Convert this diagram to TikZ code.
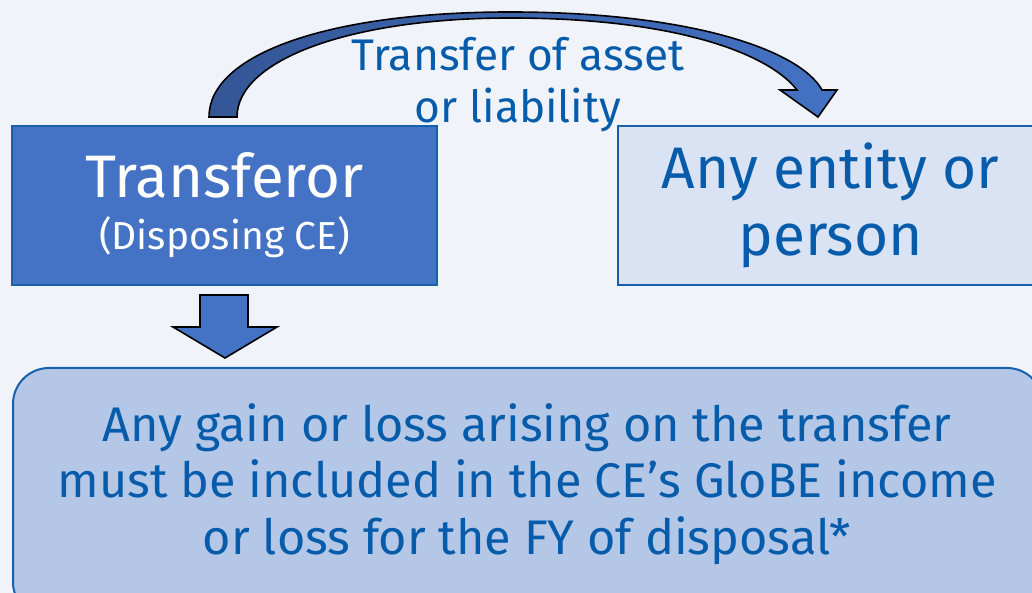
\documentclass[tikz,border=0pt]{standalone}
\usepackage{fontspec}
\setmainfont{Fira Sans}
\usetikzlibrary{calc}
\definecolor{bg}{RGB}{240,244,250}
\definecolor{darkfill}{RGB}{68,114,196}
\definecolor{lightfill}{RGB}{218,227,243}
\definecolor{midfill}{RGB}{180,199,231}
\definecolor{edgeblue}{RGB}{22,96,172}
\definecolor{txtblue}{RGB}{6,92,170}
\definecolor{arrowdark}{RGB}{52,86,150}
\tikzset{
  box/.style={draw=edgeblue, line width=2pt, inner sep=0pt, align=center},
  blockarrow/.style={draw=black, line width=1.6pt, line join=miter},
}
\begin{document}
\begin{tikzpicture}[x=1pt,y=1pt]
\useasboundingbox (0,0) rectangle (1032,593);
\clip (0,0) rectangle (1032,593);
\fill[bg] (0,0) rectangle (1032,593);

% Transferor box
\node[box, fill=darkfill, text=white, minimum width=425pt, minimum height=159pt,
      font=\fontsize{60}{52}\selectfont]
  (t) at (224.5,387.5)
  {\raisebox{-3pt}{Transferor}\\{\fontsize{39}{52}\selectfont \raisebox{-3pt}{(Disposing CE)}}};

% Right box
\node[box, fill=lightfill, text=txtblue, minimum width=425pt, minimum height=159pt,
      anchor=west, font=\fontsize{58.6}{67}\selectfont] (p) at (617,387.5)
  {Any entity or\\person};

% Bottom rounded box
\node[box, fill=midfill, rounded corners=36pt, minimum width=1030pt, minimum height=250pt,
      anchor=north west] (g) at (12,226) {};
\node[text=txtblue, align=center, inner sep=0pt, font=\fontsize{48.6}{56.5}\selectfont]
  (gt) at (527,109)
  {Any gain or loss arising on the transfer\\
   must be included in the CE’s GloBE income\\
   or loss for the FY of disposal*};

% Curved transfer arrow
\shade[left color=arrowdark, right color=darkfill, draw=black, line width=1.6pt, line join=miter]
  (209,476) .. controls (209,539) and (329,581) .. (510,581)
  .. controls (690,581) and (800,543) .. (822,503)
  -- (837,503) -- (818,476) -- (780,503) -- (797,503)
  .. controls (770,538) and (680,575) .. (510,575)
  .. controls (350,575) and (237,533) .. (237,476) -- cycle;

\node[text=txtblue, align=center, inner sep=0pt, font=\fontsize{44.3}{52}\selectfont]
  (lbl) at (518,508) {Transfer of asset\\or liability};

% Down block arrow
\filldraw[blockarrow, fill=darkfill]
  (200,298) -- (248,298) -- (248,266) -- (277,266) -- (225,235)
  -- (173,266) -- (200,266) -- cycle;
\end{tikzpicture}
\end{document}
